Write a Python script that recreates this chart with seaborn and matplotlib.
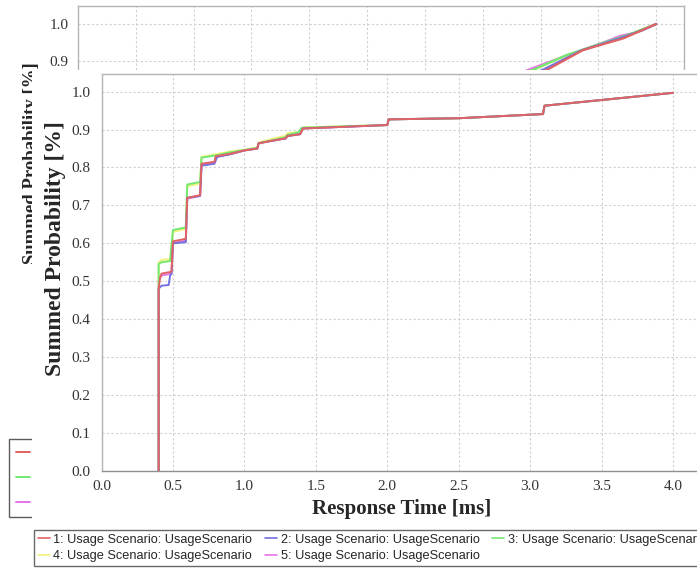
import matplotlib
matplotlib.use("Agg")
import matplotlib.pyplot as plt
import seaborn as sns
import pandas as pd
from matplotlib.patches import Rectangle
from matplotlib.lines import Line2D

# ---------------- data ----------------
series_labels = [
    "1: Usage Scenario: UsageScenario",
    "2: Usage Scenario: UsageScenario",
    "3: Usage Scenario: UsageScenario",
    "4: Usage Scenario: UsageScenario",
    "5: Usage Scenario: UsageScenario",
]
series_colors = ["#e06262", "#7272e0", "#72e872", "#f2f27a", "#e674e6"]

# common tail of all curves (response time in ms, summed probability)
tail_time = [1.09, 1.10, 1.20, 1.29, 1.30, 1.39, 1.41, 2.00, 2.01, 2.50, 3.09, 3.10, 4.00]
tail_prob = [0.850, 0.864, 0.871, 0.877, 0.883, 0.888, 0.903, 0.912, 0.927, 0.930, 0.941, 0.963, 0.997]

s1_time = [0.40, 0.40, 0.41, 0.42, 0.49, 0.50, 0.59, 0.60, 0.69, 0.70, 0.79, 0.80, 0.90, 1.00]
s1_prob = [0.0, 0.48, 0.51, 0.52, 0.525, 0.605, 0.612, 0.72, 0.727, 0.81, 0.815, 0.83, 0.836, 0.845]

s2_time = [0.40, 0.40, 0.42, 0.47, 0.48, 0.49, 0.50, 0.59, 0.60, 0.69, 0.70, 0.79, 0.81, 0.90, 1.00]
s2_prob = [0.0, 0.48, 0.488, 0.49, 0.515, 0.52, 0.60, 0.603, 0.72, 0.725, 0.805, 0.81, 0.828, 0.835, 0.845]

s3_time = [0.40, 0.40, 0.42, 0.48, 0.50, 0.59, 0.60, 0.69, 0.70, 0.80, 0.90, 1.00, 1.09, 1.10, 1.29, 1.30, 1.38, 1.40, 2.00]
s3_prob = [0.0, 0.545, 0.55, 0.553, 0.635, 0.642, 0.755, 0.762, 0.826, 0.832, 0.84, 0.846, 0.852, 0.864, 0.880, 0.886, 0.893, 0.905, 0.912]

s4_time = [0.40, 0.40, 0.42, 0.48, 0.50, 0.59, 0.60, 0.69, 0.70, 0.80, 0.90, 1.00, 1.09, 1.10, 1.20, 1.29, 1.30, 1.40, 1.42, 2.00]
s4_prob = [0.0, 0.55, 0.556, 0.558, 0.63, 0.638, 0.75, 0.758, 0.828, 0.835, 0.842, 0.847, 0.853, 0.866, 0.876, 0.884, 0.890, 0.895, 0.906, 0.912]

s5_time = [0.40, 0.40, 0.42, 0.49, 0.50, 0.59, 0.60, 0.69, 0.70, 0.79, 0.80, 0.90, 1.00]
s5_prob = [0.0, 0.50, 0.515, 0.52, 0.60, 0.607, 0.718, 0.725, 0.805, 0.812, 0.828, 0.835, 0.845]

# background chart (only its upper part is visible)
bg1_x = [7.70, 8.11, 8.74, 9.43, 10.0]
bg1_y = [0.855, 0.876, 0.930, 0.961, 1.0]
bg2_x = [7.70, 8.05, 8.70, 9.40, 9.78, 10.0]
bg2_y = [0.855, 0.877, 0.928, 0.963, 0.984, 1.0]
bg3_x = [7.50, 7.90, 8.45, 9.00, 9.50, 10.0]
bg3_y = [0.858, 0.878, 0.916, 0.945, 0.970, 1.0]
bg4_x = [7.50, 7.88, 8.40, 9.00, 9.50, 10.0]
bg4_y = [0.855, 0.876, 0.912, 0.943, 0.968, 1.0]
bg5_x = [7.50, 7.85, 8.50, 9.00, 9.38, 9.60, 10.0]
bg5_y = [0.858, 0.880, 0.918, 0.945, 0.968, 0.975, 1.0]

x_ticks = [0.0, 0.5, 1.0, 1.5, 2.0, 2.5, 3.0, 3.5, 4.0]
y_ticks = [0.0, 0.1, 0.2, 0.3, 0.4, 0.5, 0.6, 0.7, 0.8, 0.9, 1.0]
bg_y_ticks = [0.9, 1.0]

# ---------------- style ----------------
sns.set_style("white")
plt.rcParams["font.family"] = ["Liberation Serif", "DejaVu Serif"]

W, H = 697, 576
fig = plt.figure(figsize=(W / 100, H / 100), dpi=100)


def fx(px):
    return px / W


def fy(py):
    return 1 - py / H


grid_kw = dict(color="#cfcfcf", linestyle=(0, (2, 2)), linewidth=0.8)
frame_col = "#b4b4b4"

fg_series = [
    (s1_time + tail_time, s1_prob + tail_prob),
    (s2_time + tail_time, s2_prob + tail_prob),
    (s3_time + tail_time[7:], s3_prob + tail_prob[7:]),
    (s4_time + tail_time[7:], s4_prob + tail_prob[7:]),
    (s5_time + tail_time, s5_prob + tail_prob),
]
bg_series = [(bg1_x, bg1_y), (bg2_x, bg2_y), (bg3_x, bg3_y), (bg4_x, bg4_y), (bg5_x, bg5_y)]

# ---------------- background chart ----------------
ax_bg = fig.add_axes([fx(78), fy(394), (684 - 78) / W, (394 - 6) / H], zorder=0)
for i in [4, 3, 2, 1, 0]:
    d = pd.DataFrame({"x": bg_series[i][0], "y": bg_series[i][1]})
    sns.lineplot(data=d, x="x", y="y", ax=ax_bg, color=series_colors[i],
                 linewidth=1.6, sort=False, estimator=None)
ax_bg.set_xlim(0, 10.48)
ax_bg.set_ylim(0, 1.0486)
ax_bg.set_xticks([1, 2, 3, 4, 5, 6, 7, 8, 9, 10])
ax_bg.set_xticklabels([])
ax_bg.set_yticks(bg_y_ticks)
ax_bg.set_yticklabels([f"{v:.1f}" for v in bg_y_ticks], fontsize=11, color="#333333")
ax_bg.tick_params(axis="y", length=3, color=frame_col, pad=4)
ax_bg.tick_params(axis="x", length=0)
ax_bg.grid(True, **grid_kw)
ax_bg.set_xlabel("")
ax_bg.set_ylabel("")
for s in ax_bg.spines.values():
    s.set_color(frame_col)
    s.set_linewidth(1.0)
# background legend: only its left edge with the line keys is visible
bg_handles = [Line2D([], [], color=c, linewidth=1.4) for c in series_colors]
bg_order = [0, 2, 4, 1, 3]
ax_bg.legend([bg_handles[i] for i in bg_order], ["" for _ in bg_order],
             ncol=2, loc="upper left", bbox_to_anchor=(fx(9), fy(439)),
             bbox_transform=fig.transFigure, frameon=True, fancybox=False,
             edgecolor="#333333", handlelength=1.0, labelspacing=0.8,
             borderpad=0.5, borderaxespad=0, handletextpad=0.5, columnspacing=3.0,
             prop={"family": "Liberation Sans", "size": 10})
ax_bg.get_legend().get_frame().set_linewidth(1.0)
fig.text(fx(31), fy(163), "Summed Probability [%]", rotation=90, ha="center", va="center",
         fontsize=13.5, fontweight="bold", zorder=0.5)

# cover of the foreground chart window
fig.add_artist(Rectangle((fx(32), 0), 1 - fx(32), fy(70), transform=fig.transFigure,
                         facecolor="white", edgecolor="none", zorder=1))

# ---------------- foreground chart ----------------
AX_L, AX_R, AX_T, AX_B = 101.5, 708.8, 74, 470.7
ax = fig.add_axes([fx(AX_L), fy(AX_B), (AX_R - AX_L) / W, (AX_B - AX_T) / H], zorder=2)
for i in [4, 3, 2, 1, 0]:
    d = pd.DataFrame({"t": fg_series[i][0], "p": fg_series[i][1]})
    sns.lineplot(data=d, x="t", y="p", ax=ax, color=series_colors[i],
                 linewidth=1.4, sort=False, estimator=None)
ax.set_xlim(0, 4.25)
ax.set_ylim(0, 1.0467)
ax.set_xticks(x_ticks)
ax.set_xticklabels([f"{v:.1f}" for v in x_ticks], fontsize=11, color="#333333")
ax.set_yticks(y_ticks)
ax.set_yticklabels([f"{v:.1f}" for v in y_ticks], fontsize=11, color="#333333")
ax.tick_params(axis="both", length=3, color=frame_col)
ax.tick_params(axis="y", pad=5)
ax.tick_params(axis="x", pad=4)
ax.grid(True, **grid_kw)
for s in ax.spines.values():
    s.set_color(frame_col)
    s.set_linewidth(1.0)
ax.spines["bottom"].set_color("#909090")

ax_w = AX_R - AX_L
ax_h = AX_B - AX_T
ax.set_xlabel("Response Time [ms]", fontsize=15, fontweight="bold")
ax.xaxis.set_label_coords((402 - AX_L) / ax_w, -(499 - AX_B) / ax_h)
ax.set_ylabel("Summed Probability [%]", fontsize=17, fontweight="bold")
ax.yaxis.set_label_coords(-(AX_L - 66) / ax_w, (AX_B - 249) / ax_h)

handles = [Line2D([], [], color=c, linewidth=1.2) for c in series_colors]
order = [0, 3, 1, 4, 2]
ax.legend([handles[i] for i in order], [series_labels[i] for i in order],
          ncol=3, loc="upper left", bbox_to_anchor=(fx(34), fy(530)),
          bbox_transform=fig.transFigure, frameon=True, fancybox=False,
          edgecolor="#444444", handlelength=0.95, handletextpad=0.27,
          columnspacing=1.0, labelspacing=0.35, borderpad=0.3, borderaxespad=0,
          prop={"family": "Liberation Sans", "size": 9.2})
leg = ax.get_legend()
leg.get_frame().set_linewidth(1.0)

fig.savefig("out.png", dpi=100)
